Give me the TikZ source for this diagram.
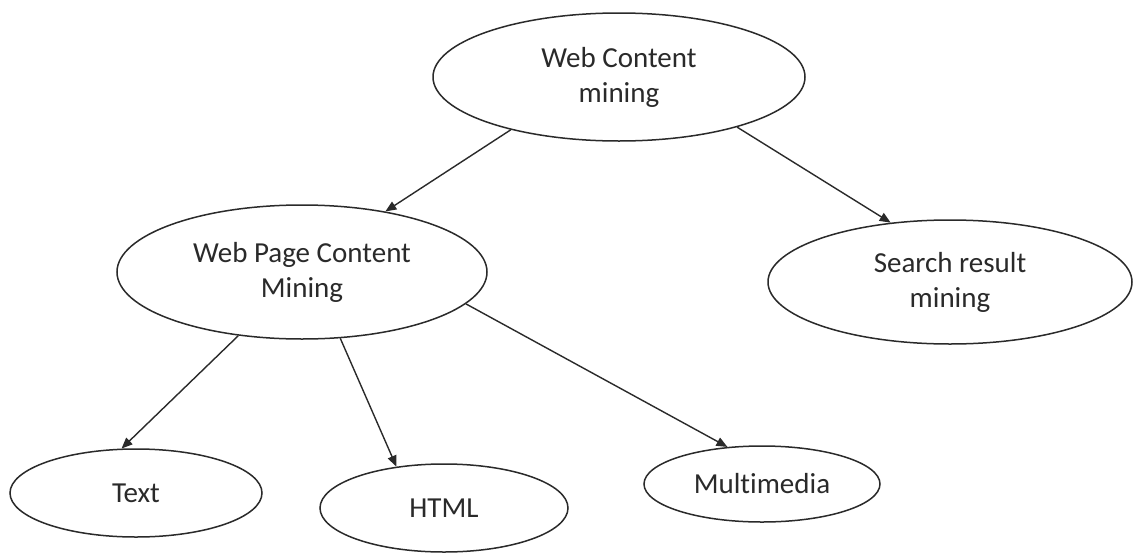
\documentclass[tikz,border=0pt]{standalone}
\usepackage{fontspec}
\setmainfont{Carlito}[Ligatures={NoCommon,NoContextual},RawFeature={-liga;-clig;-dlig;-calt}]
\usetikzlibrary{shapes.geometric,arrows.meta}
\definecolor{ink}{HTML}{2A2A2A}
\begin{document}
\begin{tikzpicture}[x=1pt,y=-1pt,
  topic/.style={ellipse,draw=ink,line width=1.5pt,inner sep=0pt,
    text=ink,align=center,
    font=\fontsize{29}{35}\selectfont},
  link/.style={draw=ink,line width=1.4pt,
    -{Triangle[length=11pt,width=9pt]}}]
\useasboundingbox (0,0) rectangle (1133,552);
\fill[white] (0,0) rectangle (1133,552);

% nodes
\node[topic,minimum width=372pt,minimum height=128pt] (wcm) at (619,77) {Web Content\\mining};
\node[topic,minimum width=370pt,minimum height=134pt] (wpcm) at (302,272) {Web Page Content\\Mining};
\node[topic,minimum width=364pt,minimum height=124pt] (srm) at (950,282) {Search result\\mining};
\node[topic,minimum width=252pt,minimum height=88pt] (txt) at (136,493) {Text};
\node[topic,minimum width=248pt,minimum height=88pt] (html) at (444,508) {HTML};
\node[topic,minimum width=236pt,minimum height=76pt] (mm) at (762,484) {Multimedia};

% connectors
\draw[link] (wcm.206) -- (wpcm.36);
\draw[link] (wcm.337) -- (srm.135);
\draw[link] (wpcm.225) -- (txt.108);
\draw[link] (wpcm.300) -- (html.139);
\draw[link] (wpcm.349) -- (mm.133);
\end{tikzpicture}
\end{document}
